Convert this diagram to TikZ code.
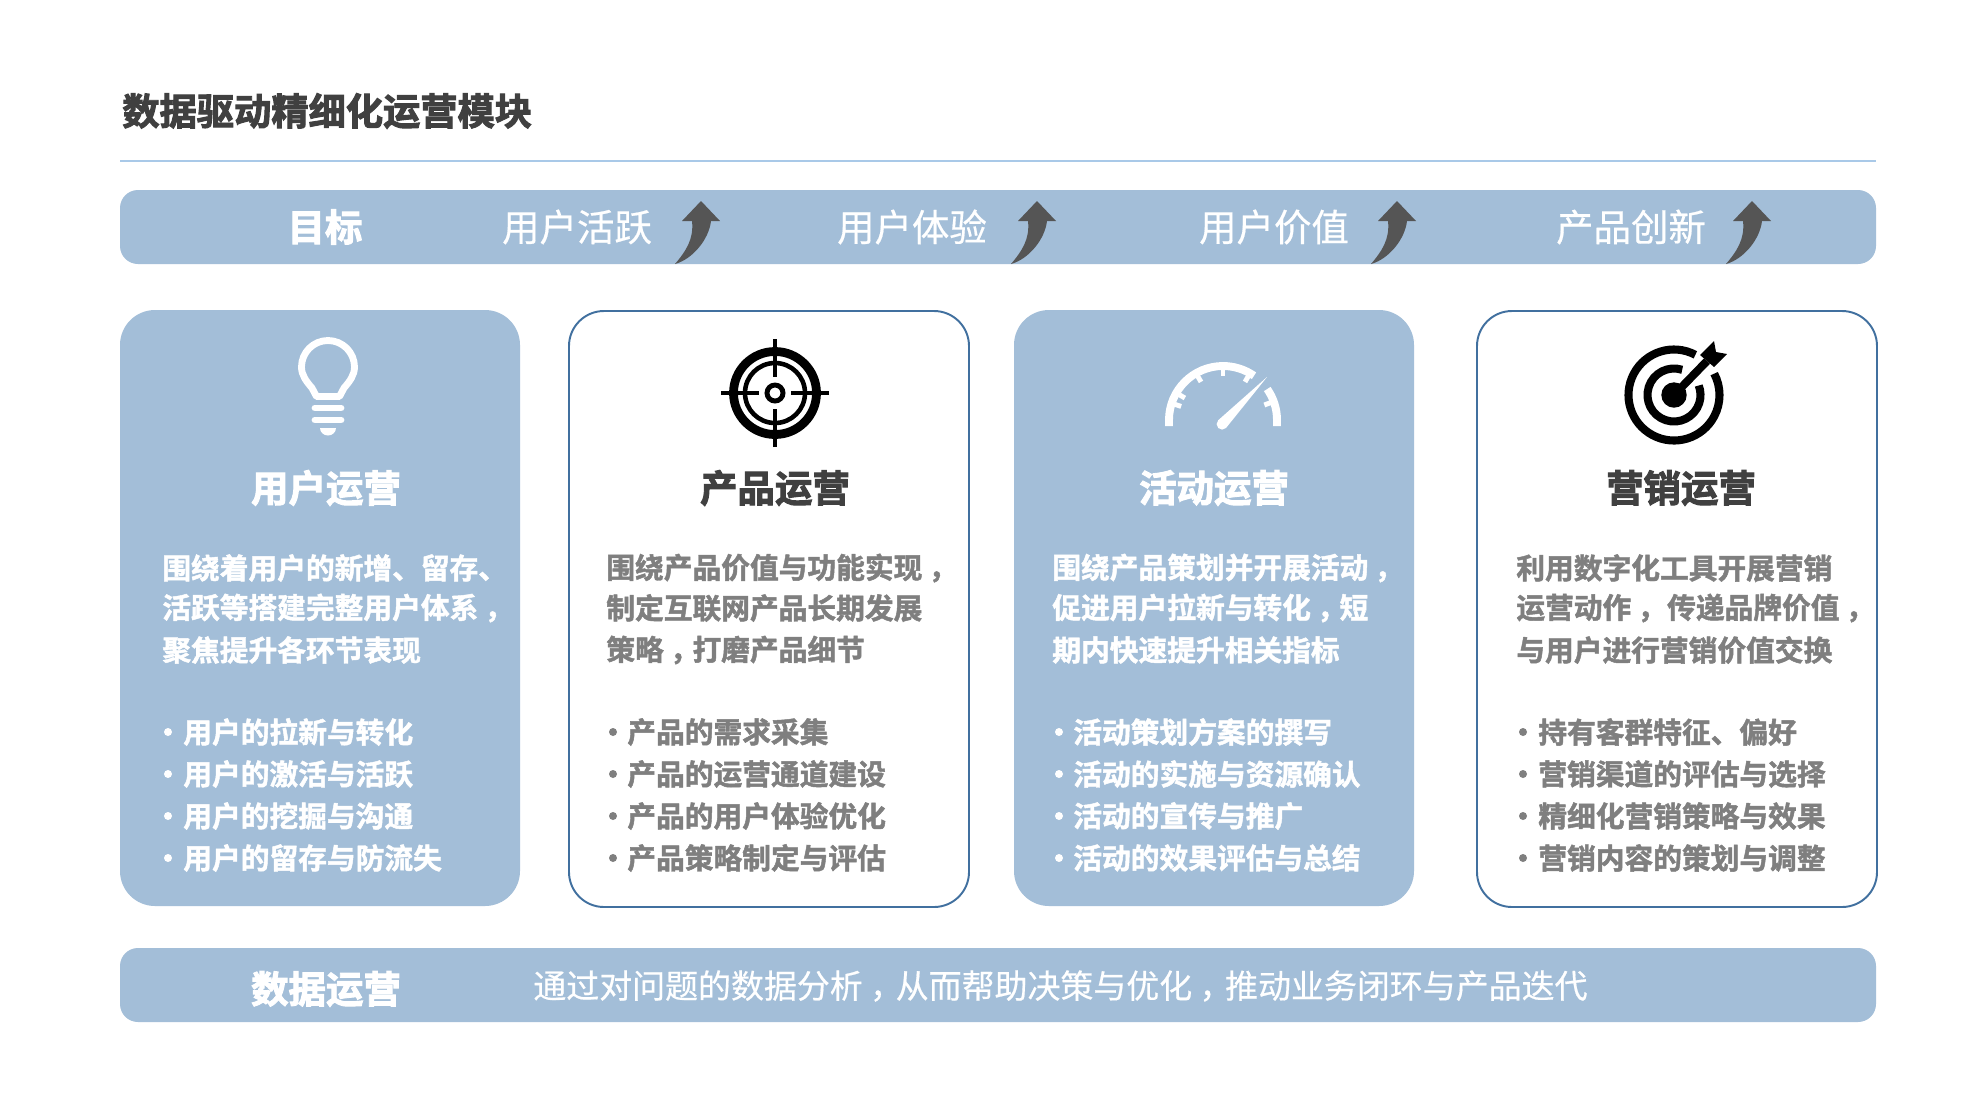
\documentclass[tikz,border=0pt]{standalone}
\usepackage{fontspec}
\setmainfont{Noto Sans CJK SC}
\newfontfamily\barfont[FakeBold=.5]{Noto Sans CJK SC}
\newfontfamily\heavyfont[FakeBold=1.6]{Noto Sans CJK SC Bold}
\newfontfamily\blackfont[FakeBold=2.6]{Noto Sans CJK SC Bold}
\newcommand{\midcomma}{\kern.22em，\kern-.22em}
\definecolor{barblue}{HTML}{A3BED8}
\definecolor{edgeblue}{HTML}{41709F}
\definecolor{rulecol}{HTML}{A9C9E8}
\definecolor{darktext}{HTML}{404040}
\definecolor{graytext}{HTML}{7F7F7F}
\definecolor{arrowcol}{HTML}{555555}
\tikzset{
  x=0.02cm,y=-0.02cm,
  band/.style={fill=barblue,draw=none,rounded corners=0.36cm},
  cardfull/.style={fill=barblue,draw=none,rounded corners=0.7cm},
  cardline/.style={fill=white,draw=edgeblue,line width=1.1pt,rounded corners=0.7cm},
  titletext/.style={inner sep=0pt,text=darktext,font=\blackfont\fontsize{21.2pt}{26pt}\selectfont},
  headtext/.style={inner sep=0pt,font=\blackfont\fontsize{21.3pt}{26pt}\selectfont},
  bartext/.style={inner sep=0pt,text=white,font=\barfont\fontsize{21.3pt}{26pt}\selectfont},
  datatext/.style={inner sep=0pt,anchor=west,text=white,font=\barfont\fontsize{18.75pt}{24pt}\selectfont},
  bodytext/.style={inner sep=0pt,anchor=west,font=\heavyfont\fontsize{16.35pt}{20pt}\selectfont},
  iconscope/.style={x=0.02cm,y=0.02cm},
  risearrow/.pic={
    \fill[arrowcol] (0,0) -- (19,-20) -- (10,-20) .. controls (8,-38) and (-8,-58) .. (-26,-63)
      .. controls (-15,-50) and (-7,-38) .. (-9,-20) -- (-19,-20) -- cycle;
  }
}
\begin{document}
\begin{tikzpicture}
\useasboundingbox (0,0) rectangle (1962,1100);
\fill[white] (0,0) rectangle (1962,1100);

% header
\node[titletext,anchor=west] (pagetitle) at (122,111) {数据驱动精细化运营模块};
\draw[rulecol,line width=1pt] (120,161) -- (1876,161);

% goal band
\fill[band] (120,190) rectangle (1876,264);
\node[headtext,text=white] (goal) at (325,227) {目标};
\node[bartext] (goala) at (577,227) {用户活跃};
\node[bartext] (goalb) at (912,227) {用户体验};
\node[bartext] (goalc) at (1274,227) {用户价值};
\node[bartext] (goald) at (1631,227) {产品创新};
\begin{scope}[iconscope]
\pic at (701,-201) {risearrow};
\pic at (1037,-201) {risearrow};
\pic at (1397,-201) {risearrow};
\pic at (1752,-201) {risearrow};
\end{scope}

% cards
\fill[cardfull] (120,310) rectangle (520,906);
\draw[cardline] (569,311) rectangle (969,907);
\fill[cardfull] (1014,310) rectangle (1414,906);
\draw[cardline] (1477,311) rectangle (1877,907);

% bulb
\begin{scope}[shift={(328,367)},iconscope,white]
\draw[line width=3.9pt,line join=round] (-11.5,-29.5) -- (-16,-21) .. controls (-22,-14) and (-26.5,-8) .. (-26.5,0)
  arc (180:0:26.5) .. controls (26.5,-8) and (22,-14) .. (16,-21) -- (11.5,-29.5) -- cycle;
\draw[line width=3.9pt,line cap=round] (-13,-41) -- (13,-41);
\draw[line width=3.9pt,line cap=round] (-13,-53) -- (13,-53);
\fill (-8,-61) -- (8,-61) arc (0:-180:8 and 7.5) -- cycle;
\end{scope}

% reticle
\begin{scope}[shift={(775,393)},iconscope]
\draw[line width=5pt] (0,0) circle (41.5);
\draw[line width=2.6pt] (0,0) circle (30);
\draw[line width=2.8pt] (0,0) circle (8);
\draw[line width=2.8pt] (0,54) -- (0,16);
\draw[line width=2.8pt] (0,-54) -- (0,-16);
\draw[line width=2.8pt] (-54,0) -- (-16,0);
\draw[line width=2.8pt] (54,0) -- (16,0);
\end{scope}

% gauge
\begin{scope}[shift={(1223,420)},iconscope,white]
\draw[line width=4.5pt] (-54,-6) -- (-54,0) arc (180:55:54);
\draw[line width=4.5pt] (35:54) arc (35:0:54) -- (54,-6);
\foreach \a in {20,60,90,120,150,162}
  \draw[line width=2.8pt] (\a:56) -- (\a:44);
\fill (44,43) -- (3,-8) arc (-45:-225:5.5) -- cycle;
\end{scope}

% target
\begin{scope}[shift={(1674,395)},iconscope]
\draw[line width=4.6pt] (62:45.5) arc (62:388:45.5);
\draw[line width=4.6pt] (72:26.5) arc (72:381:26.5);
\fill (0,0) circle (12.7);
\draw[line width=4.6pt] (0,0) -- (33,34);
\fill (26,40) -- (40,54) -- (42,43) -- (53,41) -- (40,28) -- cycle;
\end{scope}

% card 1
\node[headtext,text=white] (usertitle) at (326,488) {用户运营};
\node[bodytext,text=white] (userla) at (162,568) {围绕着用户的新增、留存、};
\node[bodytext,text=white] (userlb) at (162,608) {活跃等搭建完整用户体系\midcomma};
\node[bodytext,text=white] (userlc) at (162,650) {聚焦提升各环节表现};
\fill[white] (168,732) circle (4);
\fill[white] (168,774) circle (4);
\fill[white] (168,816) circle (4);
\fill[white] (168,858) circle (4);
\node[bodytext,text=white] (userba) at (183,732) {用户的拉新与转化};
\node[bodytext,text=white] (userbb) at (183,774) {用户的激活与活跃};
\node[bodytext,text=white] (userbc) at (183,816) {用户的挖掘与沟通};
\node[bodytext,text=white] (userbd) at (183,858) {用户的留存与防流失};

% card 2
\node[headtext,text=darktext] (prodtitle) at (775,488) {产品运营};
\node[bodytext,text=graytext] (prodla) at (606,568) {围绕产品价值与功能实现\midcomma};
\node[bodytext,text=graytext] (prodlb) at (606,608) {制定互联网产品长期发展};
\node[bodytext,text=graytext] (prodlc) at (606,650) {策略\midcomma 打磨产品细节};
\fill[graytext] (613,732) circle (4);
\fill[graytext] (613,774) circle (4);
\fill[graytext] (613,816) circle (4);
\fill[graytext] (613,858) circle (4);
\node[bodytext,text=graytext] (prodba) at (627,732) {产品的需求采集};
\node[bodytext,text=graytext] (prodbb) at (627,774) {产品的运营通道建设};
\node[bodytext,text=graytext] (prodbc) at (627,816) {产品的用户体验优化};
\node[bodytext,text=graytext] (prodbd) at (627,858) {产品策略制定与评估};

% card 3
\node[headtext,text=white] (acttitle) at (1214,488) {活动运营};
\node[bodytext,text=white] (actla) at (1052,568) {围绕产品策划并开展活动\midcomma};
\node[bodytext,text=white] (actlb) at (1052,608) {促进用户拉新与转化\midcomma 短};
\node[bodytext,text=white] (actlc) at (1052,650) {期内快速提升相关指标};
\fill[white] (1059,732) circle (4);
\fill[white] (1059,774) circle (4);
\fill[white] (1059,816) circle (4);
\fill[white] (1059,858) circle (4);
\node[bodytext,text=white] (actba) at (1073,732) {活动策划方案的撰写};
\node[bodytext,text=white] (actbb) at (1073,774) {活动的实施与资源确认};
\node[bodytext,text=white] (actbc) at (1073,816) {活动的宣传与推广};
\node[bodytext,text=white] (actbd) at (1073,858) {活动的效果评估与总结};

% card 4
\node[headtext,text=darktext] (mkttitle) at (1681,488) {营销运营};
\node[bodytext,text=graytext] (mktla) at (1516,568) {利用数字化工具开展营销};
\node[bodytext,text=graytext] (mktlb) at (1516,608) {运营动作\midcomma\kern.25em 传递品牌价值\midcomma};
\node[bodytext,text=graytext] (mktlc) at (1516,650) {与用户进行营销价值交换};
\fill[graytext] (1523,732) circle (4);
\fill[graytext] (1523,774) circle (4);
\fill[graytext] (1523,816) circle (4);
\fill[graytext] (1523,858) circle (4);
\node[bodytext,text=graytext] (mktba) at (1538,732) {持有客群特征、偏好};
\node[bodytext,text=graytext] (mktbb) at (1538,774) {营销渠道的评估与选择};
\node[bodytext,text=graytext] (mktbc) at (1538,816) {精细化营销策略与效果};
\node[bodytext,text=graytext] (mktbd) at (1538,858) {营销内容的策划与调整};

% data band
\fill[band] (120,948) rectangle (1876,1022);
\node[headtext,text=white] (datahead) at (326,989) {数据运营};
\node[datatext] (datadesc) at (533,986) {通过对问题的数据分析\midcomma 从而帮助决策与优化\midcomma 推动业务闭环与产品迭代};
\end{tikzpicture}
\end{document}
